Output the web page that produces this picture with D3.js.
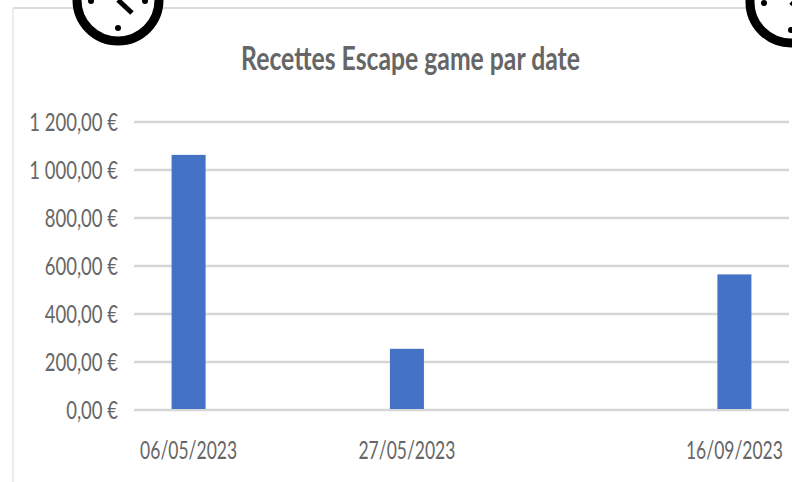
<!DOCTYPE html>
<html>
<head>
<meta charset="utf-8">
<script src="https://d3js.org/d3.v7.min.js"></script>
<style>
  html, body { margin: 0; padding: 0; background: #fff; }
  svg { display: block; }
  text { font-family: "Lato", "Noto Sans", sans-serif; fill: #666; }
</style>
</head>
<body>
<script>
// date slots of the source axis, the blank ones have no recette
const categories = ["06/05/2023", "", "27/05/2023", "", "", "16/09/2023"];
const recettes = [1063, null, 255, null, null, 565];
const yTicks = [0, 200, 400, 600, 800, 1000, 1200];
const titre = "Recettes Escape game par date";

const width = 792, height = 482;
const margin = { top: 122, right: 3, bottom: 72, left: 134 };

const svg = d3.select("body").append("svg")
  .attr("width", width)
  .attr("height", height);

// chart frame, cropped by the screenshot
svg.append("line").attr("x1", 13).attr("x2", width).attr("y1", 8).attr("y2", 8)
  .attr("stroke", "#dcdcdc").attr("stroke-width", 2);
svg.append("line").attr("x1", 13).attr("x2", 13).attr("y1", 8).attr("y2", height)
  .attr("stroke", "#e6e6e6").attr("stroke-width", 1.5);

const x = d3.scaleBand()
  .domain(d3.range(categories.length))
  .range([margin.left, width - margin.right]);

const y = d3.scaleLinear()
  .domain([0, 1200])
  .range([height - margin.bottom, margin.top]);

const fmt = v => d3.format(",.2f")(v).replace(/,/g, " ").replace(".", ",") + " €";

svg.append("g").selectAll("line")
  .data(yTicks)
  .enter().append("line")
  .attr("x1", margin.left)
  .attr("x2", width - margin.right)
  .attr("y1", d => y(d))
  .attr("y2", d => y(d))
  .attr("stroke", "#d6d6d6")
  .attr("stroke-width", 2.5);

// labels look horizontally squeezed in the source, so scale x only
svg.append("g").selectAll("text")
  .data(yTicks)
  .enter().append("text")
  .attr("transform", d => `translate(118,${y(d)}) scale(0.74,1)`)
  .attr("dy", "0.35em")
  .attr("text-anchor", "end")
  .style("font-size", "25px")
  .text(fmt);

const barWidth = 34;
svg.append("g").selectAll("rect")
  .data(recettes.map((v, i) => ({ v, i })).filter(d => d.v !== null))
  .enter().append("rect")
  .attr("x", d => x(d.i) + x.bandwidth() / 2 - barWidth / 2)
  .attr("y", d => y(d.v))
  .attr("width", barWidth)
  .attr("height", d => y(0) - y(d.v) - 1)
  .attr("fill", "#4472c4");

svg.append("g").selectAll("text")
  .data(categories.map((c, i) => ({ c, i })).filter(d => d.c))
  .enter().append("text")
  .attr("transform", d => `translate(${x(d.i) + x.bandwidth() / 2},459) scale(0.7,1)`)
  .attr("text-anchor", "middle")
  .style("font-size", "25px")
  .text(d => d.c);

svg.append("text")
  .attr("transform", `translate(410.5,70) scale(0.75,1)`)
  .attr("text-anchor", "middle")
  .style("font-size", "33px")
  .style("font-weight", "bold")
  .text(titre);

// clock icons overlapping the top of the picture
function clock(cx, cy) {
  const g = svg.append("g").attr("transform", `translate(${cx},${cy})`);
  g.append("circle").attr("r", 41).attr("fill", "#fff").attr("stroke", "#000").attr("stroke-width", 9);
  g.append("line").attr("x1", 0).attr("y1", 0).attr("x2", 14).attr("y2", 13)
    .attr("stroke", "#000").attr("stroke-width", 5);
  [[-27, 1], [27, 1], [0, 28]].forEach(p => {
    g.append("circle").attr("cx", p[0]).attr("cy", p[1]).attr("r", 3).attr("fill", "#000");
  });
}
clock(118, 0);
clock(791, 2);
</script>
</body>
</html>
